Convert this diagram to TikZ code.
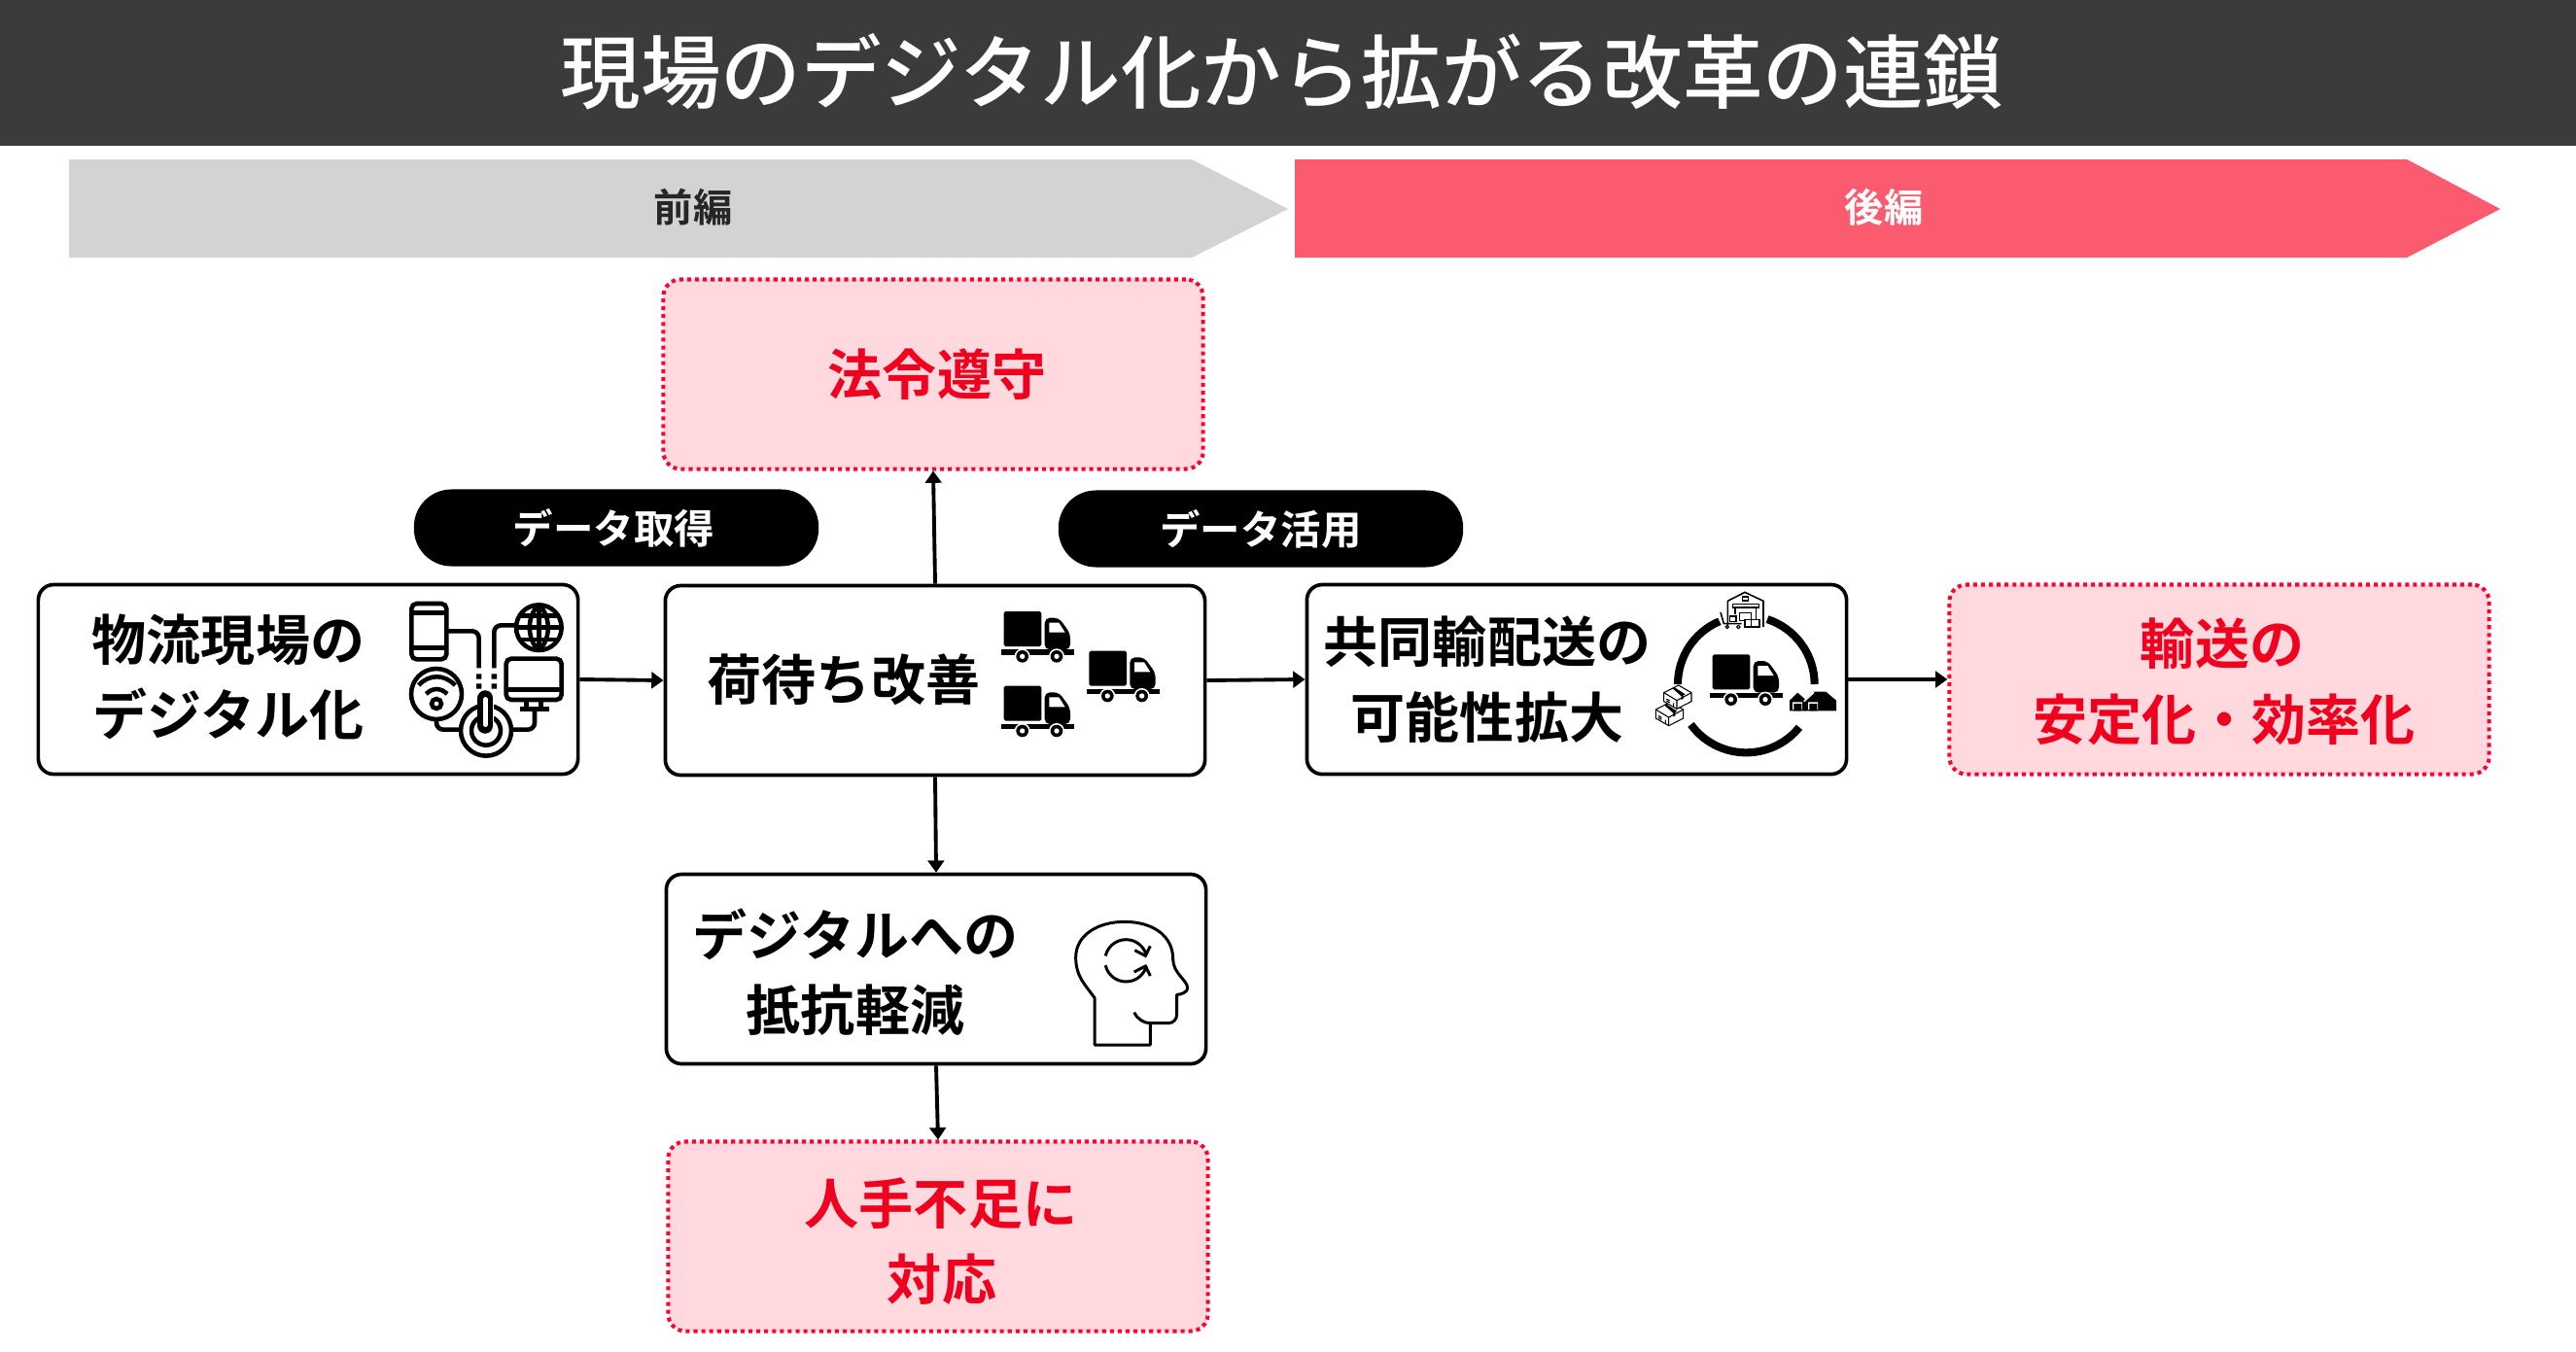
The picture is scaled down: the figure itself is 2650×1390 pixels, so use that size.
\documentclass[tikz,border=0pt]{standalone}
\usepackage{fontspec}
\usetikzlibrary{arrows.meta}
\setmainfont{Noto Sans CJK JP}[BoldFont={Noto Sans CJK JP Bold}]
\newfontfamily\titlefont{Noto Sans CJK JP Medium}
\definecolor{barcol}{HTML}{3B3B3B}
\definecolor{greycol}{HTML}{D4D3D1}
\definecolor{redbar}{HTML}{FB5B6E}
\definecolor{redtxt}{HTML}{F0001E}
\definecolor{reddot}{HTML}{FF0030}
\definecolor{redfill}{HTML}{FFD9DD}
\tikzset{
  box/.style={draw=black,line width=2.1pt,fill=white,rounded corners=9pt,minimum width=316pt,minimum height=111pt,inner sep=0pt},
  redbox/.style={draw=reddot,line width=2.3pt,dash pattern=on 2.3pt off 2.3pt,fill=redfill,rounded corners=10pt,minimum width=316pt,minimum height=111pt,inner sep=0pt},
  pill/.style={fill=black,text=white,rounded corners=22pt,minimum width=237pt,minimum height=45pt,inner sep=0pt,font=\fontsize{23.6}{28}\selectfont\bfseries},
  lbl/.style={align=center,inner sep=0pt,font=\fontsize{31.9}{44.4}\selectfont\bfseries},
  redlbl/.style={lbl,text=redtxt},
  conn/.style={draw=black,line width=2.2pt,-{Triangle[length=7pt,width=9.5pt]}},
  icon/.style={line width=2.6pt,draw=black,line cap=butt},
  iconh/.style={line width=1.7pt,draw=black},
  icont/.style={line width=0.6pt,draw=black},
  pics/truck/.style={code={
    \fill[black,rounded corners=1pt] (98,87) rectangle (214,195);
    \fill[black,rounded corners=3pt] (224,205) -- (224,107) -- (268,107) -- (303,155) -- (303,205) -- cycle;
    \fill[white] (238,122) -- (268,122) -- (287,152) -- (238,152) -- cycle;
    \fill[black] (90,205) rectangle (316,221);
    \foreach \wx in {155,261}{
      \fill[white] (\wx,226) circle[radius=24];
      \fill[black] (\wx,226) circle[radius=19];
      \fill[white] (\wx,226) circle[radius=8];
    }
  }},
  pics/parcel/.style={code={
    \draw[icont,fill=white] (0,23) -- (45,0) -- (85,23) -- (85,50) -- (40,73) -- (0,50) -- cycle;
    \draw[icont] (0,23) -- (40,47) -- (85,23) (40,47) -- (40,73);
    \fill[black] (26,9) -- (32,6) -- (66,28) -- (60,31) -- (60,42) -- (54,45) -- (54,34) -- cycle;
    \draw[icont] (8,42) -- (18,48) (8,48) -- (18,54) (30,55) -- (30,66);
  }}
}
\begin{document}
\begin{tikzpicture}[x=0.02cm,y=-0.02cm]
\useasboundingbox (0,0) rectangle (2650,1390);
\fill[white] (0,0) rectangle (2650,1390);
% title
\fill[barcol] (0,0) rectangle (2650,150);
\node[text=white,inner sep=0pt,font=\titlefont\fontsize{47}{56}\selectfont] (title) at (1319,74) {現場のデジタル化から拡がる改革の連鎖};
% phase arrows
\fill[greycol] (71,164) -- (1226,164) -- (1325,215) -- (1226,265) -- (71,265) -- cycle;
\fill[redbar] (1332,164) -- (2476,164) -- (2572,215) -- (2476,265) -- (1332,265) -- cycle;
\node[inner sep=0pt,text=black!85,font=\fontsize{22.9}{28}\selectfont\bfseries] (zen) at (713,213) {前編};
\node[inner sep=0pt,text=white,font=\fontsize{22.9}{28}\selectfont\bfseries] (kou) at (1938,213) {後編};
% boxes
\node[box] (genba) at (317,699) {};
\node[box] (nimachi) at (962,700) {};
\node[box] (kyodo) at (1622,699) {};
\node[redbox] (yuso) at (2283,699) {};
\node[redbox] (horei) at (960,385) {};
\node[box] (teiko) at (963,997) {};
\node[redbox] (hitode) at (965,1272) {};
\node[pill] (p1) at (634,543) {データ取得\kern3pt};
\node[pill] (p2) at (1297,544) {データ活用};
% labels
\node[lbl] (t1) at (235,658) {物流現場の};
\node[lbl] (t1b) at (235,735) {デジタル化};
\node[lbl] (t2) at (868,699) {荷待ち改善};
\node[lbl] (t3) at (1530,660) {共同輸配送の};
\node[lbl] (t3b) at (1530,738) {可能性拡大};
\node[lbl] (t4) at (880,961) {デジタルへの};
\node[lbl] (t4b) at (880,1039) {抵抗軽減};
\node[redlbl] (t5) at (964,385) {法令遵守};
\node[redlbl] (t6) at (2286,662) {輸送の};
\node[redlbl] (t6b) at (2288,740) {安定化・効率化};
\node[redlbl] (t7) at (968,1238) {人手不足に};
\node[redlbl] (t7b) at (969,1316) {対応};
% connectors
\draw[conn] (genba.east) -- (nimachi.west);
\draw[conn] (nimachi.east) -- (kyodo.west);
\draw[conn] (kyodo.east) -- (yuso.west);
\draw[conn] (nimachi.north) -- (horei.south);
\draw[conn] (nimachi.south) -- (teiko.north);
\draw[conn] (teiko.south) -- (hitode.north);
% icon: network
\begin{scope}[shift={(400,590)},x=0.00667cm,y=-0.00667cm]
  \draw[icon,rounded corners=3pt] (70,93) rectangle (178,265);
  \draw[icon] (70,122) -- (178,122) (70,230) -- (178,230);
  \draw[icon,rounded corners=4pt] (178,178) -- (278,178) -- (278,292);
  \draw[icon,rounded corners=4pt] (395,160) -- (325,160) -- (325,292);
  \fill (270,310) rectangle (286,326) (270,340) rectangle (286,356) (317,310) rectangle (333,326) (317,340) rectangle (333,356);
  \draw[icon] (463,167) circle[radius=70];
  \draw[icon] (463,97) -- (463,237) (393,167) -- (533,167) (405,130) -- (521,130) (405,204) -- (521,204);
  \draw[icon] (463,97) .. controls (425,130) and (425,204) .. (463,237);
  \draw[icon] (463,97) .. controls (501,130) and (501,204) .. (463,237);
  \draw[icon,rounded corners=3pt] (362,263) rectangle (533,390);
  \draw[icon] (362,358) -- (533,358) (425,390) -- (425,418) (470,390) -- (470,418) (405,418) -- (495,418);
  \draw[icon,rounded corners=4pt] (450,418) -- (450,482) -- (380,482);
  \draw[icon] (147,372) circle[radius=78];
  \draw[icon] (92,345) .. controls (125,310) and (170,310) .. (205,345);
  \draw[icon] (115,372) .. controls (135,352) and (160,352) .. (180,372);
  \draw[icon] (147,402) circle[radius=15];
  \draw[icon,rounded corners=4pt] (147,450) -- (147,482) -- (225,482);
  \draw[icon,fill=white] (300,485) circle[radius=78];
  \draw[icon] (300,485) ++(-60:45) arc[start angle=-60,end angle=240,radius=45];
  \draw[line width=10pt,line cap=round,white] (298,380) -- (298,470);
  \draw[line width=9.2pt,line cap=round] (298,385) -- (298,470);
  \draw[line width=2.6pt,line cap=round,white] (298,388) -- (298,467);
\end{scope}
% trucks
\begin{scope}[shift={(1000,600)},x=0.00667cm,y=-0.00667cm]
  \pic at (0,0) {truck};
  \pic at (263,122) {truck};
  \pic at (0,230) {truck};
\end{scope}
% icon: logistics cycle
\begin{scope}[shift={(1690,590)},x=0.00667cm,y=-0.00667cm]
  \pic at (117,163) {truck};
  \draw[line width=4.6pt] (319,342) ++(-113:211) arc[start angle=-113,end angle=-180,radius=211];
  \draw[line width=4.6pt] (319,342) ++(-72:211) arc[start angle=-72,end angle=0,radius=211];
  \draw[line width=4.6pt] (319,342) ++(144:211) arc[start angle=144,end angle=39,radius=211];
  % warehouse
  \draw[icont,line width=0.9pt] (262,165) -- (262,85) -- (315,58) -- (372,85) -- (372,165);
  \draw[icont] (307,72) rectangle (325,84);
  \draw[icont,line width=0.9pt] (278,95) rectangle (358,105);
  \draw[icont] (285,105) -- (285,125) (350,105) -- (350,140);
  \draw[icont,fill=white] (298,122) rectangle (335,145);
  \draw[icont,fill=white] (335,142) rectangle (360,165);
  \draw[icont,fill=white] (315,142) rectangle (335,165);
  \draw[icont,fill=white] (268,132) rectangle (288,148);
  \draw[icont,line width=0.9pt] (250,155) -- (305,155) (240,120) -- (250,155);
  \draw[icont] (260,165) circle[radius=5] (295,165) circle[radius=5];
  % houses
  \fill (453,424) -- (453,392) -- (478,368) -- (505,392) -- (505,424) -- cycle;
  \fill (497,424) -- (497,392) -- (528,365) -- (565,365) -- (597,392) -- (597,424) -- cycle;
  \draw[white,line width=0.9pt] (497,395) -- (528,367);
  \fill[white] (462,397) rectangle (492,420) (510,397) rectangle (540,420);
  \fill (466,402) rectangle (490,424) (514,402) rectangle (538,424);
  % parcels
  \pic at (40,397) {parcel};
  \pic at (65,345) {parcel};
\end{scope}
% icon: head
\begin{scope}[shift={(1090,930)},x=0.00667cm,y=-0.00667cm]
  \draw[iconh,line join=round] (108,435) -- (108,290) .. controls (80,250) and (50,225) .. (50,165)
    .. controls (50,95) and (120,55) .. (200,55) .. controls (290,55) and (350,100) .. (350,170)
    .. controls (350,215) and (395,235) .. (395,260) .. controls (395,272) and (375,280) .. (362,280)
    -- (362,340) .. controls (362,358) and (350,368) .. (335,368) -- (280,368) -- (280,435) -- cycle;
  \draw[iconh] (230,335) .. controls (240,355) and (260,368) .. (280,368);
  \draw[iconh] (205,175) ++(-167:65) arc[start angle=-167,end angle=-15,radius=65];
  \draw[iconh] (205,175) ++(167:65) arc[start angle=167,end angle=15,radius=65];
  \draw[iconh] (232,143) -- (265,160) -- (280,130);
  \draw[iconh] (230,210) -- (265,192) -- (280,222);
\end{scope}
\end{tikzpicture}
\end{document}
